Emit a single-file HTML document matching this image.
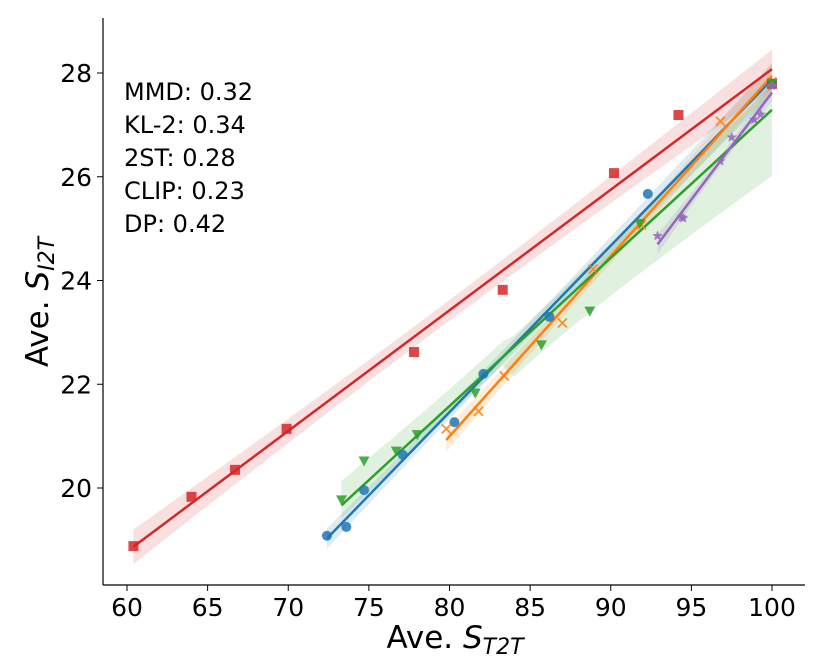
<!DOCTYPE html>
<html><head><meta charset="utf-8"><style>
body{margin:0;background:#fff}
svg{display:block;font-family:"DejaVu Sans","Liberation Sans",sans-serif}
</style></head><body>
<svg id="chart" width="830" height="664">
<g id="bands"></g>
<g id="lines"></g>
<g id="points"></g>
<g id="axes"></g>
<g font-size="24" fill="#000">
<text x="124" y="100">MMD: 0.32</text>
<text x="124" y="133">KL-2: 0.34</text>
<text x="124" y="166">2ST: 0.28</text>
<text x="124" y="199">CLIP: 0.23</text>
<text x="124" y="232">DP: 0.42</text>
</g>
<text x="455" y="648" text-anchor="middle" font-size="31">Ave. <tspan font-style="italic">S</tspan><tspan font-style="italic" font-size="22" dy="6">T2T</tspan></text>
<text transform="translate(48,302) rotate(-90)" text-anchor="middle" font-size="31">Ave. <tspan font-style="italic">S</tspan><tspan font-style="italic" font-size="22" dy="6">I2T</tspan></text>
</svg>
<script>
const xTicks=[60,65,70,75,80,85,90,95,100];
const yTicks=[20,22,24,26,28];
const redX=[60.4,64.0,66.7,69.9,77.8,83.3,90.2,94.2,100];
const redY=[18.88,19.83,20.35,21.14,22.62,23.82,26.07,27.19,27.79];
const blueX=[72.4,73.6,74.7,77.1,80.3,82.1,86.2,92.3,100];
const blueY=[19.08,19.25,19.96,20.64,21.27,22.2,23.3,25.67,27.8];
const orangeX=[79.8,81.8,83.4,87.0,88.9,91.9,96.8,100];
const orangeY=[21.14,21.48,22.16,23.18,24.22,25.07,27.07,27.83];
const greenX=[73.3,74.7,76.7,78.0,81.6,85.7,88.7,91.8,100];
const greenY=[19.77,20.52,20.71,21.03,21.83,22.76,23.41,25.1,27.8];
const purpleX=[92.9,94.4,94.5,96.8,97.5,98.9,99.3,100];
const purpleY=[24.86,25.22,25.2,26.3,26.76,27.1,27.2,27.75];
const sx=v=>127+(v-60)*16.125, sy=v=>488-(v-20)*51.875;
const NS='http://www.w3.org/2000/svg';
function mk(t,a,p){const e=document.createElementNS(NS,t);for(const k in a)e.setAttribute(k,a[k]);p.appendChild(e);return e;}
const ax=document.getElementById('axes');
const L=mk('line',{x1:103,y1:18,x2:103,y2:585,stroke:'#000','stroke-width':1.2},ax);

const B=mk('line',{x1:103,y1:585,x2:805,y2:585,stroke:'#000','stroke-width':1.2},ax);

xTicks.forEach(v=>{const x=sx(v);mk('line',{x1:x,y1:585,x2:x,y2:591,stroke:'#000'},ax);
const t=mk('text',{x:x,y:616,'text-anchor':'middle','font-size':25},ax);t.textContent=v;
});
yTicks.forEach(v=>{const y=sy(v);mk('line',{x1:97,y1:y,x2:103,y2:y,stroke:'#000'},ax);
const t=mk('text',{x:92,y:y+9,'text-anchor':'end','font-size':25},ax);t.textContent=v;
});
const series=[
{n:'dp',X:redX,Y:redY,c:'#d62728',m:'square',asym:false},
{n:'clip',X:blueX,Y:blueY,c:'#1f77b4',m:'circle',asym:false},
{n:'2st',X:orangeX,Y:orangeY,c:'#ff7f0e',m:'x',asym:false},
{n:'kl2',X:greenX,Y:greenY,c:'#2ca02c',m:'tri',asym:true},
{n:'mmd',X:purpleX,Y:purpleY,c:'#9467bd',m:'star',asym:false}];
const bg=document.getElementById('bands'),lg=document.getElementById('lines'),pg=document.getElementById('points');
series.forEach(s=>{
const n=s.X.length,mx=s.X.reduce((a,b)=>a+b)/n,my=s.Y.reduce((a,b)=>a+b)/n;
let sxx=0,sxy=0;s.X.forEach((x,i)=>{sxx+=(x-mx)**2;sxy+=(x-mx)*(s.Y[i]-my);});
const b=sxy/sxx,a=my-b*mx;let sse=0;s.X.forEach((x,i)=>{sse+=(s.Y[i]-a-b*x)**2;});
const se=Math.sqrt(sse/(n-2)),t=2.36*0.85;
const x0=Math.min(...s.X),x1=Math.max(...s.X);const up=[],dn=[];
for(let k=0;k<=40;k++){const x=x0+(x1-x0)*k/40,y=a+b*x,w=t*se*Math.sqrt(1/n+(x-mx)**2/sxx);
let wu=w,wd=w;
if(s.asym){if(x>mx){wu=w*0.8;wd=w*2.1;}else{wu=w*1.1;wd=w*0.6;}}
up.push(sx(x)+','+sy(y+wu));dn.unshift(sx(x)+','+sy(y-wd));}
const band=mk('polygon',{points:up.concat(dn).join(' '),fill:s.c,'fill-opacity':0.15},bg);

const ln=mk('line',{x1:sx(x0),y1:sy(a+b*x0),x2:sx(x1),y2:sy(a+b*x1),stroke:s.c,'stroke-width':2.5},lg);

s.X.forEach((x,i)=>{const px=sx(x),py=sy(s.Y[i]);let e;
if(s.m==='square')e=mk('rect',{x:px-5,y:py-5,width:10,height:10,fill:s.c,'fill-opacity':0.85},pg);
else if(s.m==='circle')e=mk('circle',{cx:px,cy:py,r:5,fill:s.c,'fill-opacity':0.85},pg);
else if(s.m==='tri')e=mk('polygon',{points:`${px-5.5},${py-4.5} ${px+5.5},${py-4.5} ${px},${py+5.5}`,fill:s.c,'fill-opacity':0.85},pg);
else if(s.m==='x')e=mk('path',{d:`M${px-4.5},${py-4.5}L${px+4.5},${py+4.5}M${px+4.5},${py-4.5}L${px-4.5},${py+4.5}`,stroke:s.c,'stroke-width':1.8,'stroke-opacity':0.85},pg);
else{let d='';for(let k=0;k<10;k++){const r=k%2?2.4:5.5,an=-Math.PI/2+k*Math.PI/5;d+=(k?'L':'M')+(px+r*Math.cos(an))+','+(py+r*Math.sin(an));}
e=mk('path',{d:d+'Z',fill:s.c,'fill-opacity':0.85},pg);}
});
});
</script>
</body></html>
